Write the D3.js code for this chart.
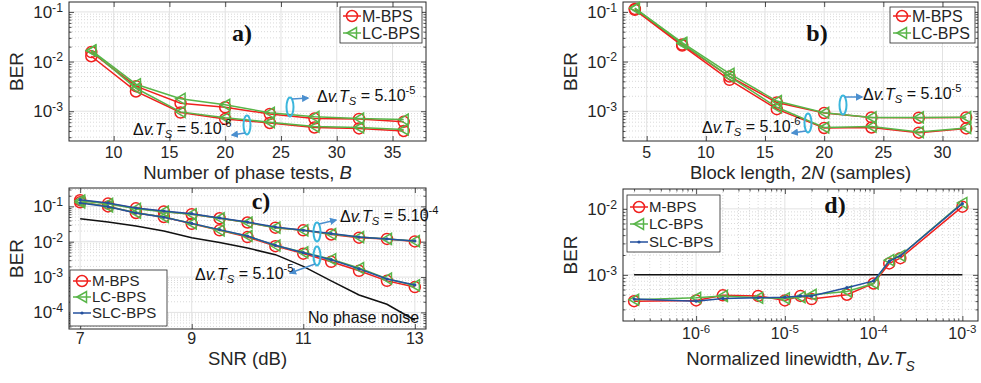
<!DOCTYPE html>
<html>
<head>
<meta charset="utf-8">
<script src="https://cdn.jsdelivr.net/npm/d3@7"></script>
<style>
  body { margin: 0; background: #fff; }
  text { font-family: "Liberation Sans", Arial, Helvetica, sans-serif; fill: #262626; }
  .letter { font-family: "Liberation Serif", "Times New Roman", serif; font-weight: bold; fill: #111; }
</style>
</head>
<body>
<svg id="fig" width="981" height="383"></svg>
<script>
"use strict";
// ---- data ----
// a) BER vs number of phase tests B
const phaseTests = [8, 12, 16, 20, 24, 28, 32, 36]
const aM_hi  = [0.0155, 0.0032, 0.00145, 0.0012, 0.00088, 0.00071, 0.0007, 0.00061]
const aLC_hi = [0.0168, 0.0035, 0.00178, 0.00135, 0.00093, 0.00077, 0.00071, 0.00068]
const aM_lo  = [0.0128, 0.0025, 0.00094, 0.0007, 0.00058, 0.00047, 0.00045, 0.0004]
const aLC_lo = [0.0165, 0.0029, 0.00097, 0.00074, 0.0006, 0.00049, 0.00047, 0.00043]
// b) BER vs block length 2N
const blockLen = [4, 8, 12, 16, 20, 24, 28, 32]
const bM_hi  = [0.115, 0.022, 0.005, 0.0015, 0.00092, 0.00075, 0.00074, 0.00075]
const bLC_hi = [0.12, 0.024, 0.0057, 0.0016, 0.00093, 0.00075, 0.00075, 0.00076]
const bM_lo  = [0.11, 0.021, 0.0043, 0.0011, 0.00046, 0.00047, 0.00037, 0.00045]
const bLC_lo = [0.118, 0.023, 0.005, 0.0012, 0.00047, 0.00049, 0.00038, 0.00046]
// c) BER vs SNR
const snr = [7, 7.5, 8, 8.5, 9, 9.5, 10, 10.5, 11, 11.5, 12, 12.5, 13]
const cM_hi   = [0.15, 0.12, 0.088, 0.072, 0.06, 0.046, 0.035, 0.025, 0.021, 0.016, 0.013, 0.012, 0.0102]
const cLC_hi  = [0.145, 0.118, 0.086, 0.071, 0.06, 0.046, 0.035, 0.025, 0.021, 0.0165, 0.0135, 0.012, 0.0104]
const cSLC_hi = [0.155, 0.125, 0.09, 0.074, 0.062, 0.047, 0.036, 0.026, 0.021, 0.017, 0.0135, 0.012, 0.0105]
const cM_lo   = [0.13, 0.1, 0.065, 0.05, 0.032, 0.021, 0.0135, 0.0075, 0.0046, 0.0027, 0.0015, 0.00078, 0.00052]
const cLC_lo  = [0.13, 0.1, 0.066, 0.05, 0.033, 0.021, 0.0145, 0.0078, 0.005, 0.0032, 0.0018, 0.0009, 0.00058]
const cSLC_lo = [0.125, 0.098, 0.065, 0.049, 0.033, 0.022, 0.0145, 0.0079, 0.0049, 0.0031, 0.0017, 0.00088, 0.0006]
const cNoPN   = [0.045, 0.036, 0.028, 0.02, 0.013, 0.0095, 0.0066, 0.0043, 0.002, 0.00078, 0.00031, 0.00017, 0.00006]
// d) BER vs normalized linewidth
const linewidth = [2e-7, 1e-6, 2e-6, 5e-6, 1e-5, 1.5e-5, 2e-5, 5e-5, 1e-4, 1.5e-4, 2e-4, 1e-3]
const dM   = [0.0004, 0.00041, 0.00049, 0.00048, 0.00041, 0.00048, 0.00043, 0.0005, 0.00074, 0.00149, 0.00179, 0.0108]
const dLC  = [0.00042, 0.00045, 0.00048, 0.00045, 0.00044, 0.00046, 0.0005, 0.00056, 0.00074, 0.00167, 0.00195, 0.0123]
const dSLC = [0.00043, 0.0004, 0.00044, 0.00045, 0.00046, 0.00048, 0.00048, 0.00064, 0.00081, 0.0016, 0.00195, 0.012]
const dLimit = 1e-3

const legendNames = ['M-BPS', 'LC-BPS', 'SLC-BPS']
const RED = '#f0201e', GREEN = '#58b548', BLUE = '#24509e', CYAN = '#3bb6dc', ARROW = '#4b8fcf'

const svg = d3.select('#fig')
const defs = svg.append('defs')
defs.append('marker')
    .attr('id', 'head').attr('viewBox', '0 0 10 10')
    .attr('refX', 8).attr('refY', 5)
    .attr('markerWidth', 5).attr('markerHeight', 5)
    .attr('orient', 'auto')
  .append('path').attr('d', 'M0,0 L10,5 L0,10 z').attr('fill', ARROW)

function sup(sel, base, exp) {
  sel.append('tspan').text(base)
  sel.append('tspan').attr('dy', '-0.5em').attr('font-size', '0.72em').text(exp)
}

function decadeMinors(dom) {
  let out = []
  let lo = Math.floor(Math.log10(dom[0])), hi = Math.ceil(Math.log10(dom[1]))
  for (let e = lo; e <= hi; e++)
    for (let k = 2; k <= 9; k++) {
      let v = k * Math.pow(10, e)
      if (v > dom[0] && v < dom[1]) out.push(v)
    }
  return out
}

// one MATLAB style axes box
function panel(o) {
  const g = svg.append('g')
  const x = (o.xlog ? d3.scaleLog() : d3.scaleLinear()).domain(o.xDom).range([o.left, o.right])
  const y = d3.scaleLog().domain(o.yDom).range([o.bottom, o.top])
  const W = o.right - o.left, H = o.bottom - o.top

  // grid
  const grid = g.append('g')
  decadeMinors(o.yDom).forEach(v => {
    grid.append('line').attr('x1', o.left).attr('x2', o.right).attr('y1', y(v)).attr('y2', y(v))
      .attr('stroke', '#c8c8c8').attr('stroke-width', 0.7).attr('stroke-dasharray', '1,2')
  })
  if (o.xlog) decadeMinors(o.xDom).forEach(v => {
    grid.append('line').attr('y1', o.top).attr('y2', o.bottom).attr('x1', x(v)).attr('x2', x(v))
      .attr('stroke', '#c8c8c8').attr('stroke-width', 0.7).attr('stroke-dasharray', '1,2')
  })
  o.yTicks.forEach(v => {
    grid.append('line').attr('x1', o.left).attr('x2', o.right).attr('y1', y(v)).attr('y2', y(v))
      .attr('stroke', '#e2e2e2').attr('stroke-width', 1)
  })
  o.xTicks.forEach(v => {
    grid.append('line').attr('y1', o.top).attr('y2', o.bottom).attr('x1', x(v)).attr('x2', x(v))
      .attr('stroke', '#e2e2e2').attr('stroke-width', 1)
  })

  // ticks, pointing inside on all four sides
  const noLab = () => ''
  g.append('g').attr('transform', `translate(0,${o.bottom})`)
    .call(d3.axisBottom(x).tickValues(o.xTicks).tickSize(-5).tickFormat(noLab))
  g.append('g').attr('transform', `translate(0,${o.top})`)
    .call(d3.axisTop(x).tickValues(o.xTicks).tickSize(-5).tickFormat(noLab))
  g.append('g').attr('transform', `translate(${o.left},0)`)
    .call(d3.axisLeft(y).tickValues(o.yTicks).tickSize(-5).tickFormat(noLab))
  g.append('g').attr('transform', `translate(${o.right},0)`)
    .call(d3.axisRight(y).tickValues(o.yTicks).tickSize(-5).tickFormat(noLab))
  g.append('g').attr('transform', `translate(${o.left},0)`)
    .call(d3.axisLeft(y).tickValues(decadeMinors(o.yDom)).tickSize(-2.5).tickFormat(noLab))
  g.append('g').attr('transform', `translate(${o.right},0)`)
    .call(d3.axisRight(y).tickValues(decadeMinors(o.yDom)).tickSize(-2.5).tickFormat(noLab))
  if (o.xlog) {
    g.append('g').attr('transform', `translate(0,${o.bottom})`)
      .call(d3.axisBottom(x).tickValues(decadeMinors(o.xDom)).tickSize(-2.5).tickFormat(noLab))
    g.append('g').attr('transform', `translate(0,${o.top})`)
      .call(d3.axisTop(x).tickValues(decadeMinors(o.xDom)).tickSize(-2.5).tickFormat(noLab))
  }
  g.selectAll('.domain').remove()
  g.selectAll('.tick line').attr('stroke', '#262626').attr('stroke-width', 0.8)
  g.append('rect').attr('x', o.left).attr('y', o.top).attr('width', W).attr('height', H)
    .attr('fill', 'none').attr('stroke', '#262626').attr('stroke-width', 1)

  // tick labels
  o.yTicks.forEach(v => {
    let t = g.append('text').attr('x', o.left - 6).attr('y', y(v) + 6)
      .attr('text-anchor', 'end').attr('font-size', 17)
    sup(t, '10', String(Math.round(Math.log10(v))))
  })
  o.xTicks.forEach(v => {
    let t = g.append('text').attr('x', x(v)).attr('y', o.bottom + o.xLabOff)
      .attr('text-anchor', 'middle').attr('font-size', 16)
    if (o.xlog) sup(t, '10', String(Math.round(Math.log10(v))))
    else t.text(v)
  })
  // axis titles
  g.append('text').attr('transform', `translate(${o.left - 46},${(o.top + o.bottom) / 2})rotate(-90)`)
    .attr('text-anchor', 'middle').attr('font-size', 19).text('BER')
  const xt = g.append('text').attr('x', (o.left + o.right) / 2).attr('y', o.xTitleY)
    .attr('text-anchor', 'middle').attr('font-size', 18.5)
  o.xTitle(xt)
  g.append('text').attr('class', 'letter').attr('x', o.letterX).attr('y', o.letterY)
    .attr('font-size', 24).attr('text-anchor', 'middle').text(o.letter)

  return {g: g, x: x, y: y}
}

function series(p, xs, ys, color, marker) {
  const pts = d3.zip(xs, ys)
  p.g.append('path').datum(pts)
    .attr('d', d3.line().x(d => p.x(d[0])).y(d => p.y(d[1])))
    .attr('fill', 'none').attr('stroke', color).attr('stroke-width', 1.5)
  drawMarkers(p.g, pts.map(d => [p.x(d[0]), p.y(d[1])]), color, marker)
}

function drawMarkers(g, pts, color, marker) {
  pts.forEach(d => {
    if (marker === 'o')
      g.append('circle').attr('cx', d[0]).attr('cy', d[1]).attr('r', 5.5)
        .attr('fill', 'none').attr('stroke', color).attr('stroke-width', 1.5)
    else if (marker === '<')
      g.append('path').attr('transform', `translate(${d[0]},${d[1]})`)
        .attr('d', 'M-5,0 L4.5,-5.5 L4.5,5.5 Z')
        .attr('fill', 'none').attr('stroke', color).attr('stroke-width', 1.5)
    else
      g.append('circle').attr('cx', d[0]).attr('cy', d[1]).attr('r', 1.6).attr('fill', color)
  })
}

function legend(x0, y0, w, h, rows, fs) {
  const g = svg.append('g')
  g.append('rect').attr('x', x0).attr('y', y0).attr('width', w).attr('height', h)
    .attr('fill', '#fff').attr('stroke', '#262626').attr('stroke-width', 0.8)
  const mk = ['o', '<', '.'], col = [RED, GREEN, BLUE]
  rows.forEach((ry, i) => {
    g.append('line').attr('x1', x0 + 3).attr('x2', x0 + 21).attr('y1', ry).attr('y2', ry)
      .attr('stroke', col[i]).attr('stroke-width', 1.5)
    drawMarkers(g, [[x0 + 12, ry]], col[i], mk[i])
    g.append('text').attr('x', x0 + 22).attr('y', ry + fs * 0.36).attr('font-size', fs).text(legendNames[i])
  })
}

function dvts(x0, y0, exp) {
  const t = svg.append('text').attr('x', x0).attr('y', y0).attr('font-size', 16).style('fill', '#111')
  t.append('tspan').text('\u0394')
  t.append('tspan').attr('font-style', 'italic').text('v.T')
  t.append('tspan').attr('font-style', 'italic').attr('font-size', '0.7em').attr('dy', '0.3em').text('S')
  t.append('tspan').attr('dy', '-0.3em').text(' = 5.10')
  t.append('tspan').attr('font-size', '0.7em').attr('dy', '-0.55em').text(exp)
}

function ring(cx, cy, ax, ay) {
  svg.append('ellipse').attr('cx', cx).attr('cy', cy).attr('rx', 3.5).attr('ry', 9.5)
    .attr('fill', 'none').attr('stroke', CYAN).attr('stroke-width', 2)
  svg.append('line').attr('x1', cx + (ax > cx ? 2 : -2)).attr('y1', cy + (ay < cy ? -8 : 8))
    .attr('x2', ax).attr('y2', ay)
    .attr('stroke', ARROW).attr('stroke-width', 1.5).attr('marker-end', 'url(#head)')
}

// ---- a) ----
const pa = panel({left: 69, right: 426, top: 2, bottom: 141, xDom: [6, 38], yDom: [Math.pow(10, -3.6), Math.pow(10, -0.8)],
  xTicks: [10, 15, 20, 25, 30, 35], yTicks: [1e-3, 1e-2, 1e-1], xLabOff: 17, xTitleY: 178.5,
  xTitle: t => { t.append('tspan').text('Number of phase tests, '); t.append('tspan').attr('font-style', 'italic').text('B') },
  letter: 'a)', letterX: 242, letterY: 41})
series(pa, phaseTests, aM_hi, RED, 'o')
series(pa, phaseTests, aM_lo, RED, 'o')
series(pa, phaseTests, aLC_hi, GREEN, '<')
series(pa, phaseTests, aLC_lo, GREEN, '<')
legend(340, 7, 82, 36, [16, 33], 16)
ring(290, 107, 308, 98)
ring(247, 125, 232, 135)
dvts(317, 102, '-5')
dvts(133, 135, '-6')

// ---- b) ----
const pb = panel({left: 623, right: 978, top: 2, bottom: 141, xDom: [3, 33], yDom: [Math.pow(10, -3.6), Math.pow(10, -0.8)],
  xTicks: [5, 10, 15, 20, 25, 30], yTicks: [1e-3, 1e-2, 1e-1], xLabOff: 17, xTitleY: 178.5,
  xTitle: t => { t.append('tspan').text('Block length, 2'); t.append('tspan').attr('font-style', 'italic').text('N'); t.append('tspan').text(' (samples)') },
  letter: 'b)', letterX: 817, letterY: 41})
series(pb, blockLen, bM_hi, RED, 'o')
series(pb, blockLen, bM_lo, RED, 'o')
series(pb, blockLen, bLC_hi, GREEN, '<')
series(pb, blockLen, bLC_lo, GREEN, '<')
legend(890, 7, 85, 36, [16, 33], 16)
ring(843, 105, 862, 97)
ring(808, 123, 792, 133)
dvts(863, 100, '-5')
dvts(702, 133, '-6')

// ---- c) ----
const pc = panel({left: 69, right: 426, top: 188, bottom: 329, xDom: [6.8, 13.2], yDom: [Math.pow(10, -4.47), Math.pow(10, -0.48)],
  xTicks: [7, 9, 11, 13], yTicks: [1e-4, 1e-3, 1e-2, 1e-1], xLabOff: 15, xTitleY: 364.5,
  xTitle: t => t.text('SNR (dB)'),
  letter: 'c)', letterX: 261, letterY: 209})
pc.g.append('path').datum(d3.zip(snr, cNoPN))
  .attr('d', d3.line().x(d => pc.x(d[0])).y(d => pc.y(d[1])))
  .attr('fill', 'none').attr('stroke', '#111').attr('stroke-width', 1.5)
series(pc, snr, cM_hi, RED, 'o')
series(pc, snr, cM_lo, RED, 'o')
series(pc, snr, cLC_hi, GREEN, '<')
series(pc, snr, cLC_lo, GREEN, '<')
series(pc, snr, cSLC_hi, BLUE, '.')
series(pc, snr, cSLC_lo, BLUE, '.')
legend(70, 270, 97, 56, [281, 297, 313], 15)
ring(317, 232, 336, 220)
ring(317, 256, 290, 273)
dvts(340, 222, '-4')
dvts(195, 280, '-5')
svg.append('text').attr('x', 308).attr('y', 323).attr('font-size', 16).style('fill', '#111').text('No phase noise')

// ---- d) ----
const pd = panel({left: 623, right: 978, top: 189, bottom: 321, xlog: true, xDom: [1.5e-7, 1.5e-3], yDom: [2e-4, 2e-2],
  xTicks: [1e-6, 1e-5, 1e-4, 1e-3], yTicks: [1e-3, 1e-2], xLabOff: 18, xTitleY: 364.5,
  xTitle: t => {
    t.append('tspan').text('Normalized linewidth, \u0394')
    t.append('tspan').attr('font-style', 'italic').text('\u03bd.T')
    t.append('tspan').attr('font-style', 'italic').attr('font-size', '0.75em').attr('dy', '0.45em').text('S')
  },
  letter: 'd)', letterX: 835, letterY: 213})
pd.g.append('line').attr('x1', pd.x(linewidth[0])).attr('x2', pd.x(linewidth[linewidth.length - 1]))
  .attr('y1', pd.y(dLimit)).attr('y2', pd.y(dLimit)).attr('stroke', '#111').attr('stroke-width', 1.5)
series(pd, linewidth, dM, RED, 'o')
series(pd, linewidth, dLC, GREEN, '<')
series(pd, linewidth, dSLC, BLUE, '.')
legend(627, 195, 93, 57, [207, 224, 242], 15)
</script>
</body>
</html>
